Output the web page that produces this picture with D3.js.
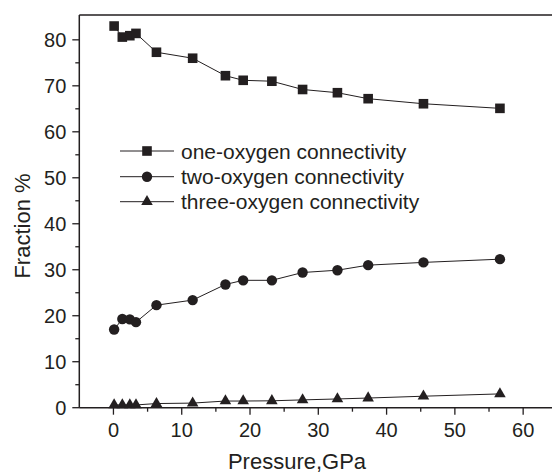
<!DOCTYPE html>
<html>
<head>
<meta charset="utf-8">
<script src="https://cdn.jsdelivr.net/npm/d3@7"></script>
<style>
  html, body { margin: 0; padding: 0; background: #fff; }
  svg { display: block; }
  text { font-family: "Liberation Sans", Arial, Helvetica, sans-serif; fill: #231f20; }
</style>
</head>
<body>
<svg id="chart" width="552" height="473"></svg>
<script>
// Pressure (GPa) at which each connectivity fraction was computed
const pressure = [0.1, 1.3, 2.4, 3.3, 6.3, 11.6, 16.4, 19.0, 23.2, 27.7, 32.8, 37.3, 45.4, 56.6];
// Fraction (%) of each connectivity type
const oneOxygen   = [83.0, 80.6, 80.9, 81.4, 77.3, 76.0, 72.2, 71.2, 71.0, 69.2, 68.5, 67.2, 66.1, 65.1];
const twoOxygen   = [17.0, 19.3, 19.2, 18.6, 22.3, 23.4, 26.8, 27.7, 27.7, 29.4, 29.9, 31.0, 31.6, 32.3];
const threeOxygen = [0.6, 0.6, 0.6, 0.6, 0.9, 1.0, 1.45, 1.45, 1.5, 1.7, 1.9, 2.1, 2.5, 3.0];

const seriesNames = ["one-oxygen connectivity", "two-oxygen connectivity", "three-oxygen connectivity"];
const seriesShapes = ["square", "circle", "triangle"];
const xTicks = [0, 10, 20, 30, 40, 50, 60];
const yTicks = [0, 10, 20, 30, 40, 50, 60, 70, 80];

const ink = "#231f20";
const svg = d3.select("#chart");

const x = d3.scaleLinear().domain([-5, 65]).range([79.3, 557.3]);
const y = d3.scaleLinear().domain([0, 85.4]).range([407.7, 15]);

// plot frame (top and right sides)
svg.append("path")
  .attr("d", `M${x(-5)},${y(85.4)}H${x(65)}V${y(0)}`)
  .attr("fill", "none").attr("stroke", ink).attr("stroke-width", 1.5);

// x axis
const xAxis = svg.append("g").attr("transform", `translate(0,${y(0)})`);
xAxis.append("line").attr("x1", x(-5)).attr("x2", x(65)).attr("stroke", ink).attr("stroke-width", 1.5);
const xMinor = d3.range(5, 65, 10);
xAxis.selectAll(".xmin").data(xMinor).join("line")
  .attr("x1", d => x(d)).attr("x2", d => x(d)).attr("y1", 0).attr("y2", 4)
  .attr("stroke", ink).attr("stroke-width", 1.3);
xAxis.selectAll(".xmaj").data(xTicks).join("line")
  .attr("x1", d => x(d)).attr("x2", d => x(d)).attr("y1", 0).attr("y2", 7)
  .attr("stroke", ink).attr("stroke-width", 1.3);
xAxis.selectAll(".xlab").data(xTicks).join("text")
  .attr("x", d => x(d)).attr("y", 29.5)
  .attr("text-anchor", "middle").attr("font-size", 20).text(d => d);

// y axis
const yAxis = svg.append("g").attr("transform", `translate(${x(-5)},0)`);
yAxis.append("line").attr("y1", y(0)).attr("y2", y(85.4)).attr("stroke", ink).attr("stroke-width", 1.5);
const yMinor = d3.range(5, 85, 10);
yAxis.selectAll(".ymin").data(yMinor).join("line")
  .attr("y1", d => y(d)).attr("y2", d => y(d)).attr("x1", 0).attr("x2", -4)
  .attr("stroke", ink).attr("stroke-width", 1.3);
yAxis.selectAll(".ymaj").data(yTicks).join("line")
  .attr("y1", d => y(d)).attr("y2", d => y(d)).attr("x1", 0).attr("x2", -7)
  .attr("stroke", ink).attr("stroke-width", 1.3);
yAxis.selectAll(".ylab").data(yTicks).join("text")
  .attr("x", -13).attr("y", d => y(d)).attr("dy", "0.36em")
  .attr("text-anchor", "end").attr("font-size", 20).text(d => d);

// axis titles
svg.append("text").attr("x", 297).attr("y", 469)
  .attr("text-anchor", "middle").attr("font-size", 22).text("Pressure,GPa");
svg.append("text").attr("transform", `translate(30,226) rotate(-90)`)
  .attr("text-anchor", "middle").attr("font-size", 22).text("Fraction %");

// marker drawing
function marker(g, shape) {
  if (shape === "square") {
    return g.append("rect").attr("x", -4.8).attr("y", -4.8).attr("width", 9.6).attr("height", 9.6).attr("fill", ink);
  }
  if (shape === "circle") {
    return g.append("circle").attr("r", 5.2).attr("fill", ink);
  }
  return g.append("path").attr("d", d3.symbol(d3.symbolTriangle, 58)()).attr("fill", ink);
}

const allSeries = [oneOxygen, twoOxygen, threeOxygen];
const line = d3.line().x(d => x(d[0])).y(d => y(d[1]));

allSeries.forEach((vals, i) => {
  const pts = pressure.map((p, j) => [p, vals[j]]);
  svg.append("path").datum(pts).attr("d", line)
    .attr("fill", "none").attr("stroke", ink).attr("stroke-width", 1);
  pts.forEach(p => {
    const g = svg.append("g").attr("transform", `translate(${x(p[0])},${y(p[1])})`);
    marker(g, seriesShapes[i]);
  });
});

// legend
const legendRows = [151, 176.7, 201.7];
seriesNames.forEach((name, i) => {
  const g = svg.append("g").attr("transform", `translate(0,${legendRows[i]})`);
  g.append("line").attr("x1", 120).attr("x2", 174).attr("stroke", ink).attr("stroke-width", 1);
  const m = svg.append("g").attr("transform", `translate(147,${legendRows[i]})`);
  marker(m, seriesShapes[i]);
  g.append("text").attr("x", 181).attr("dy", "0.36em").attr("font-size", 21).text(name);
});
</script>
</body>
</html>
